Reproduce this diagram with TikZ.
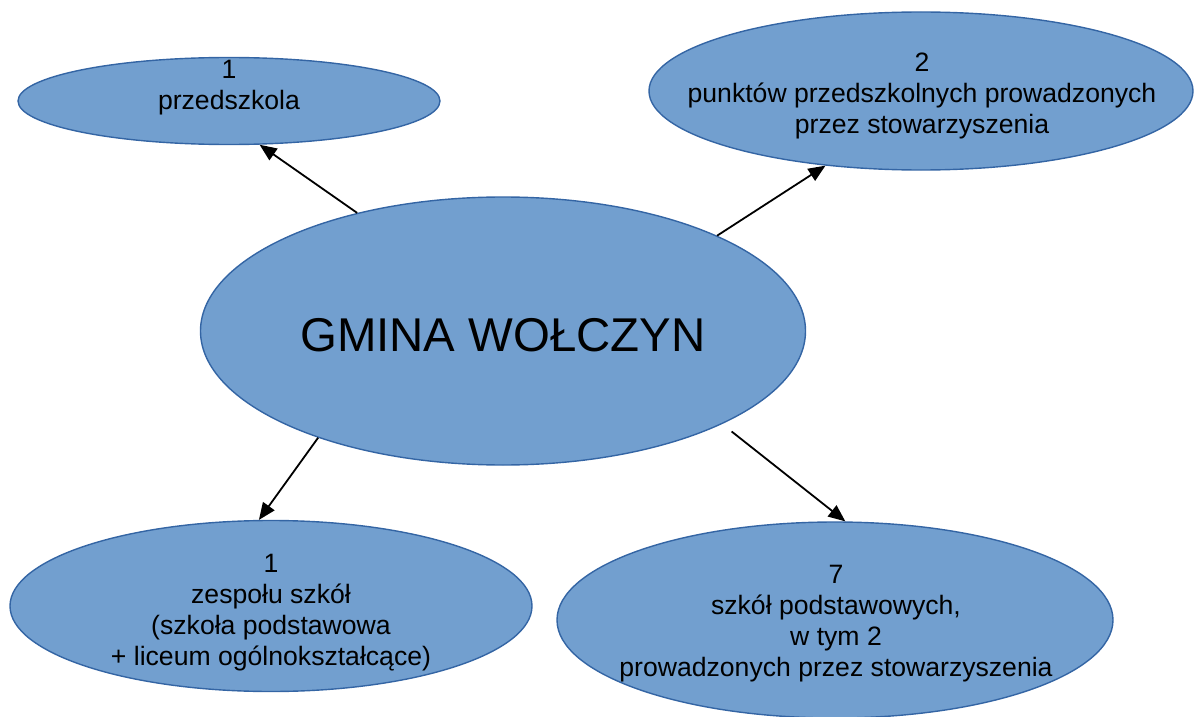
\documentclass[tikz,border=0pt]{standalone}
\usepackage{fontspec}
\setmainfont{Liberation Sans}
\usetikzlibrary{shapes.geometric,arrows.meta}
\definecolor{fillc}{HTML}{729FCF}
\definecolor{bord}{HTML}{3465A4}
\tikzset{
  blob/.style={ellipse, draw=bord, fill=fillc, line width=1.4pt, inner sep=0pt},
  lab/.style={align=center, inner sep=0pt, anchor=base, font=\fontsize{26.6}{31}\selectfont},
  arr/.style={-{Triangle[length=17pt,width=14pt]}, line width=1.8pt, black},
}
\begin{document}
\begin{tikzpicture}[x=1pt,y=-1pt]
\useasboundingbox (0,0) rectangle (1195,717);
\node[blob, minimum width=422pt, minimum height=87pt] (tl) at (229,101) {};
\node[blob, minimum width=544pt, minimum height=158pt] (tr) at (921,91) {};
\node[blob, minimum width=605pt, minimum height=268pt] (c) at (503,331) {};
\node[blob, minimum width=522pt, minimum height=171pt] (bl) at (271,606) {};
\node[blob, minimum width=556pt, minimum height=196pt] (br) at (835,620) {};

\node[lab] (tltext) at (229,110) {1\\przedszkola};
\node[lab] (trtext) at (922,133) {2\\punktów przedszkolnych prowadzonych\\przez stowarzyszenia};
\node[lab, font=\fontsize{47.4}{55}\selectfont] (ctext) at (503,351) {GMINA WOŁCZYN};
\node[lab] (bltext) at (271,665) {1\\zespołu szkół\\(szkoła podstawowa\\+ liceum ogólnokształcące)};
\node[lab] (brtext) at (836,676) {7\\szkół podstawowych,\\w tym 2\\prowadzonych przez stowarzyszenia};

\draw[arr] (c.141) -- (tl.-55);
\draw[arr] (c.24) -- (tr.-142);
\draw[arr] (c.-150) -- (bl.98);
\draw[arr, shorten <=12pt] (c.-23.3) -- (br.84);
\end{tikzpicture}
\end{document}
